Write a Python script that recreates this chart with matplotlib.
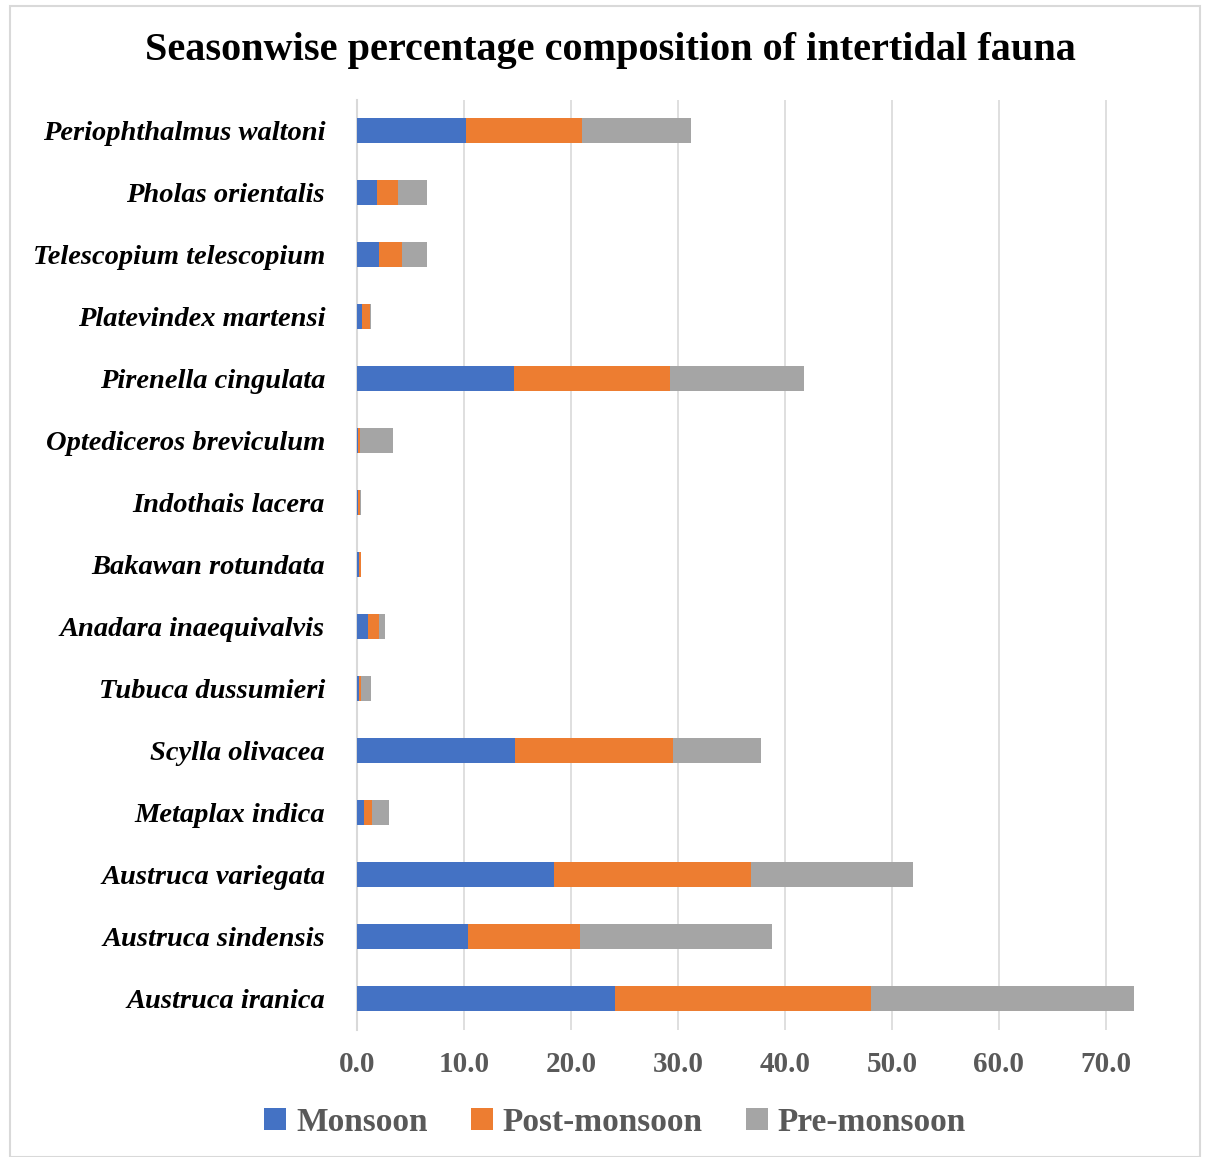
import numpy as np
import matplotlib.pyplot as plt
from matplotlib.patches import Rectangle

# ---- dati ----
species = ["Austruca iranica", "Austruca sindensis", "Austruca variegata",
           "Metaplax indica", "Scylla olivacea", "Tubuca dussumieri",
           "Anadara inaequivalvis", "Bakawan rotundata", "Indothais lacera",
           "Optediceros breviculum", "Pirenella cingulata",
           "Platevindex martensi", "Telescopium telescopium",
           "Pholas orientalis", "Periophthalmus waltoni"]
monsoon = [24.1, 10.4, 18.4, 0.7, 14.8, 0.2, 1.0, 0.15, 0.05,
           0.05, 14.7, 0.5, 2.1, 1.9, 10.2]
post_monsoon = [23.9, 10.4, 18.4, 0.7, 14.7, 0.2, 1.1, 0.25, 0.25,
                0.2, 14.6, 0.7, 2.1, 1.9, 10.8]
pre_monsoon = [24.6, 18.0, 15.2, 1.6, 8.3, 0.9, 0.55, 0.0, 0.05,
               3.1, 12.5, 0.15, 2.3, 2.7, 10.2]
xticks = np.arange(0, 71, 10)

c_mon = "#4472C4"
c_post = "#ED7D31"
c_pre = "#A5A5A5"
serif = "Liberation Serif"

fig = plt.figure(figsize=(12.06, 11.57), dpi=100)
ax = fig.add_axes([0.296, 0.110, 0.645, 0.804])

y = np.arange(len(species))
m = np.array(monsoon)
p = np.array(post_monsoon)
r = np.array(pre_monsoon)
ax.barh(y, m, height=0.4, color=c_mon, label="Monsoon", zorder=3)
ax.barh(y, p, left=m, height=0.4, color=c_post, label="Post-monsoon", zorder=3)
ax.barh(y, r, left=m + p, height=0.4, color=c_pre, label="Pre-monsoon", zorder=3)

ax.set_xlim(0, 72.7)
ax.set_ylim(-0.5, len(species) - 0.5)
ax.set_xticks(xticks)
ax.set_xticklabels([f"{v:.1f}" for v in xticks], fontfamily=serif,
                   fontweight="bold", fontsize=21, color="#595959")
ax.set_yticks(y)
ax.set_yticklabels(species, fontfamily=serif, fontweight="bold",
                   fontstyle="italic", fontsize=20.5, color="black")
ax.tick_params(axis="both", length=0)
ax.tick_params(axis="x", pad=15)
ax.tick_params(axis="y", pad=23)
ax.grid(axis="x", color="#D9D9D9", linewidth=1.2, zorder=0)
for s in ["top", "right", "bottom"]:
    ax.spines[s].set_visible(False)
ax.spines["left"].set_color("#D9D9D9")
ax.spines["left"].set_linewidth(1.5)

fig.text(0.506, 0.956, "Seasonwise percentage composition of intertidal fauna",
         fontfamily=serif, fontweight="bold", fontsize=29,
         ha="center", va="center")

leg = fig.legend(loc="center", bbox_to_anchor=(0.51, 0.030), ncol=3,
                 frameon=False, prop={"family": serif, "weight": "bold",
                                      "size": 24},
                 handlelength=0.65, handleheight=0.65, handletextpad=0.3,
                 columnspacing=1.3)
for t in leg.get_texts():
    t.set_color("#595959")

fig.patches.append(Rectangle((0.008, 0.0), 0.987, 0.995,
                             transform=fig.transFigure, fill=False,
                             edgecolor="#D9D9D9", linewidth=1.5))

fig.savefig("out.png", dpi=100)
